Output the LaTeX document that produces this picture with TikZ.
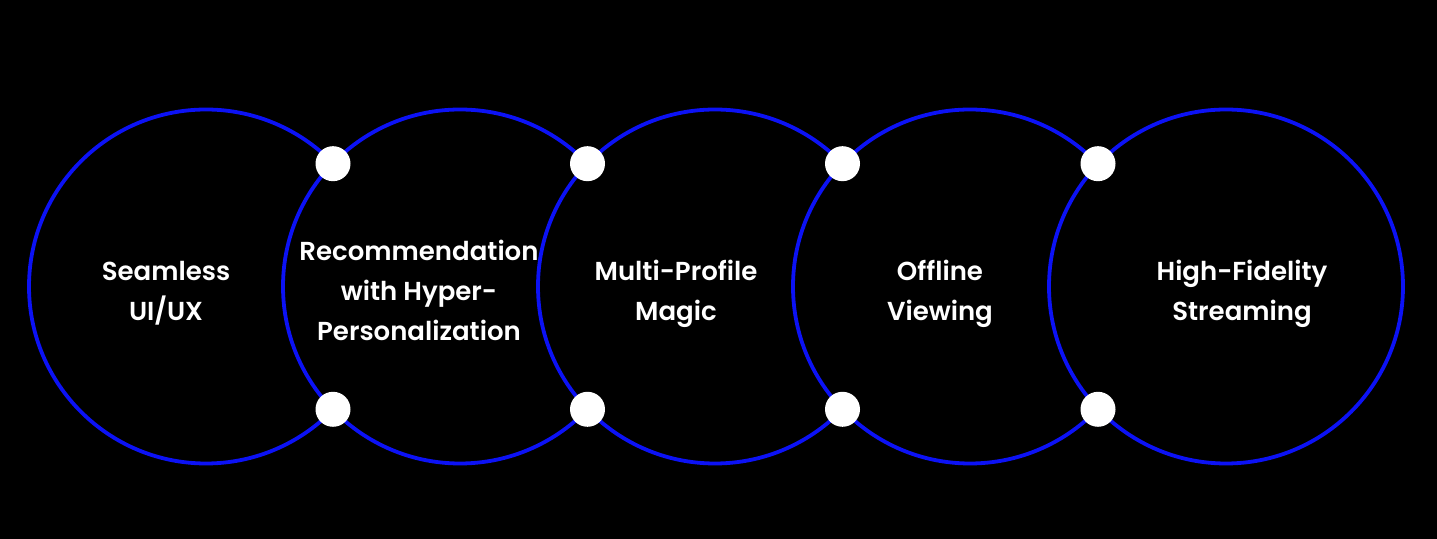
\documentclass[tikz,border=0pt]{standalone}
\usepackage{fontspec}
\setmainfont{Poppins SemiBold}
\usetikzlibrary{positioning,calc}
\definecolor{ringblue}{RGB}{12,18,245}

\begin{document}
\begin{tikzpicture}[
  x=0.5pt, y=-0.5pt,
  ring/.style={draw=ringblue, fill=black, circle, line width=1.9pt, minimum size=177pt, inner sep=0pt, outer sep=0pt},
  joint/.style={circle, fill=white, minimum size=17.5pt, inner sep=0pt},
  label/.style={align=center, text=white, font=\fontsize{13pt}{20pt}\selectfont}
]

\fill[black] (0,0) rectangle (1437,539);
\useasboundingbox (0,0) rectangle (1437,539);

% later rings lie on top of earlier ones
\node[ring] (c1) at (206,286.5) {};
\node[ring] (c2) at (460,286.5) {};
\node[ring] (c3) at (715,286.5) {};
\node[ring] (c4) at (970,286.5) {};
\node[ring] (c5) at (1226,286.5) {};

\node[joint] (j12t) at ($(c1.center)!0.5!(c2.center)+(0,-122.8)$) {};
\node[joint] (j12b) at ($(c1.center)!0.5!(c2.center)+(0,122.8)$) {};
\node[joint] (j23t) at ($(c2.center)!0.5!(c3.center)+(0,-122.8)$) {};
\node[joint] (j23b) at ($(c2.center)!0.5!(c3.center)+(0,122.8)$) {};
\node[joint] (j34t) at ($(c3.center)!0.5!(c4.center)+(0,-122.8)$) {};
\node[joint] (j34b) at ($(c3.center)!0.5!(c4.center)+(0,122.8)$) {};
\node[joint] (j45t) at ($(c4.center)!0.5!(c5.center)+(0,-122.8)$) {};
\node[joint] (j45b) at ($(c4.center)!0.5!(c5.center)+(0,122.8)$) {};

\node[label] (t1) at (166,293) {Seamless\\UI/UX};
\node[label] (t2) at (419,290) {Recommendation\\with Hyper-\\Personalization};
\node[label] (t3) at (676,294) {Multi-Profile\\Magic};
\node[label] (t4) at (940,294) {Offline\\Viewing};
\node[label] (t5) at (1242,294) {High-Fidelity\\Streaming};

\end{tikzpicture}
\end{document}
